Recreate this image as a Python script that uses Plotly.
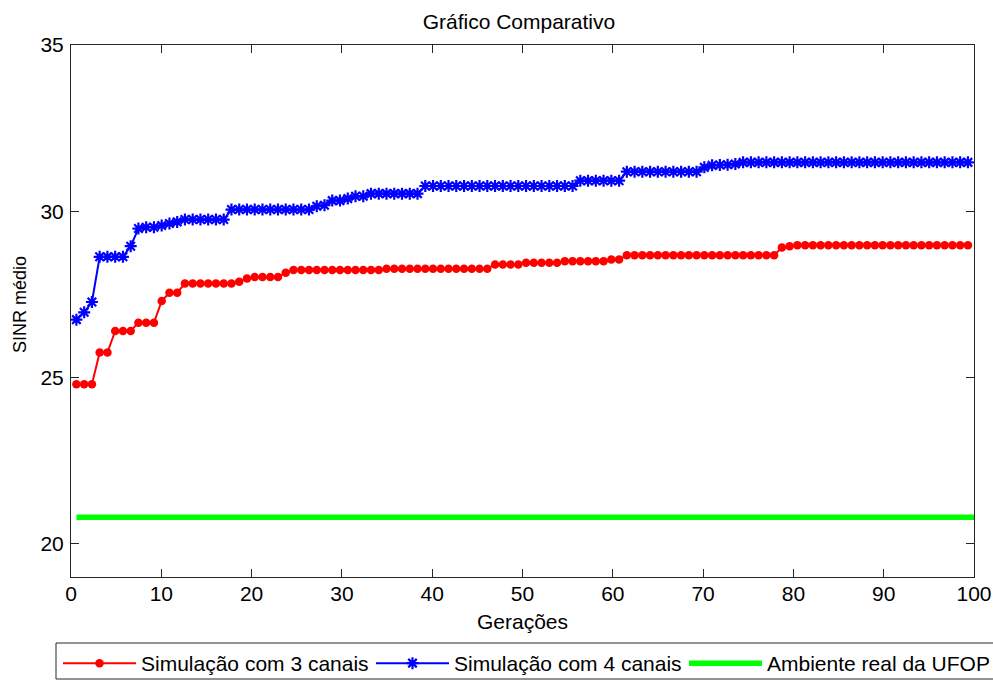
import plotly.graph_objects as go

# ---- data ----
n_pts = 116
geracoes = [round(0.6 + i * 0.8585, 3) for i in range(n_pts)]

sinr_3_canais = (
    [24.8] * 3 + [25.75] * 2 + [26.4] * 3 + [26.65] * 3 + [27.3] + [27.55] * 2 +
    [27.83] * 7 + [27.88] + [27.98] + [28.02] * 4 + [28.15] + [28.23] * 12 +
    [28.27] * 14 + [28.4] * 4 + [28.45] * 5 + [28.5] * 6 + [28.55] * 2 +
    [28.68] * 20 + [28.91] + [28.95] + [28.98] * 23
)

sinr_4_canais = (
    [26.74, 26.96, 27.27] + [28.63] * 4 + [28.95] + [29.48] + [29.52] * 2 +
    [29.57] + [29.63] + [29.68] + [29.75] * 6 + [30.05] * 11 + [30.15] + [30.18] +
    [30.32] * 2 + [30.38] + [30.45] * 2 + [30.53] * 7 + [30.76] * 20 +
    [30.92] * 6 + [31.19] * 10 + [31.32] + [31.38] + [31.39] + [31.4] + [31.42] +
    [31.47] * 30
)

ambiente_x = [0.6, 100]
ambiente_y = [20.8, 20.8]

x_ticks = [0, 10, 20, 30, 40, 50, 60, 70, 80, 90, 100]
y_ticks = [20, 25, 30, 35]

FONT = "Liberation Sans, Arial, sans-serif"

fig = go.Figure()
fig.add_trace(go.Scatter(
    x=geracoes, y=sinr_3_canais, mode="lines+markers",
    name="Simulação com 3 canais",
    line=dict(color="#FF0000", width=2),
    marker=dict(symbol="circle", size=8.5, color="#FF0000"),
))
fig.add_trace(go.Scatter(
    x=geracoes, y=sinr_4_canais, mode="lines+markers",
    name="Simulação com 4 canais",
    line=dict(color="#0000FF", width=2),
    marker=dict(symbol="asterisk-open", size=10, color="#0000FF",
                line=dict(color="#0000FF", width=2.2)),
))
fig.add_trace(go.Scatter(
    x=ambiente_x, y=ambiente_y, mode="lines",
    name="Ambiente real da UFOP",
    line=dict(color="#00FF00", width=5.5),
))

axis_common = dict(
    showgrid=False, zeroline=False, showline=True, mirror="ticks",
    linecolor="#262626", linewidth=1, ticks="inside", ticklen=8,
    tickcolor="#262626", tickwidth=1,
    tickfont=dict(family=FONT, size=21, color="#000000"),
)

fig.update_layout(
    width=993, height=680,
    margin=dict(l=71, r=19, t=45, b=103, pad=0, autoexpand=False),
    paper_bgcolor="white", plot_bgcolor="white",
    font=dict(family=FONT, size=21, color="#000000"),
    title=dict(text="Gráfico Comparativo", x=0.5226, xanchor="center",
               y=1 - 22 / 680, yanchor="middle", yref="container",
               font=dict(family=FONT, size=21, color="#000000")),
    xaxis=dict(range=[0, 100], tickvals=x_ticks, ticklabelstandoff=-2,
               **axis_common),
    yaxis=dict(range=[19, 35], tickvals=y_ticks, ticklabelstandoff=2,
               **axis_common),
    showlegend=True,
    legend=dict(
        orientation="h", x=(58 - 71) / 903, xanchor="left",
        y=(577 - 643) / 532, yanchor="top",
        bgcolor="rgba(0,0,0,0)", borderwidth=0,
        itemwidth=73, entrywidth=225, entrywidthmode="pixels",
        font=dict(family=FONT, size=21, color="#000000"),
    ),
    annotations=[
        dict(text="Gerações", xref="paper", yref="paper",
             x=0.5, y=(577 - 621) / 532, xanchor="center", yanchor="middle",
             showarrow=False, font=dict(family=FONT, size=21, color="#000000")),
        dict(text="SINR médio", xref="paper", yref="paper",
             x=(20 - 71) / 903, y=(577 - 305) / 532, xanchor="center",
             yanchor="middle", textangle=-90, showarrow=False,
             font=dict(family=FONT, size=18, color="#000000")),
    ],
    shapes=[
        dict(type="rect", xref="paper", yref="paper",
             x0=(56 - 71) / 903, x1=(1010 - 71) / 903,
             y0=(577 - 643) / 532, y1=(577 - 679) / 532,
             line=dict(color="#262626", width=1), fillcolor="rgba(0,0,0,0)",
             layer="above"),
    ],
)

fig.write_html(
    "out.html",
    config={"displayModeBar": False},
    post_script="document.body.style.margin='0';document.body.style.overflow='hidden';",
)
